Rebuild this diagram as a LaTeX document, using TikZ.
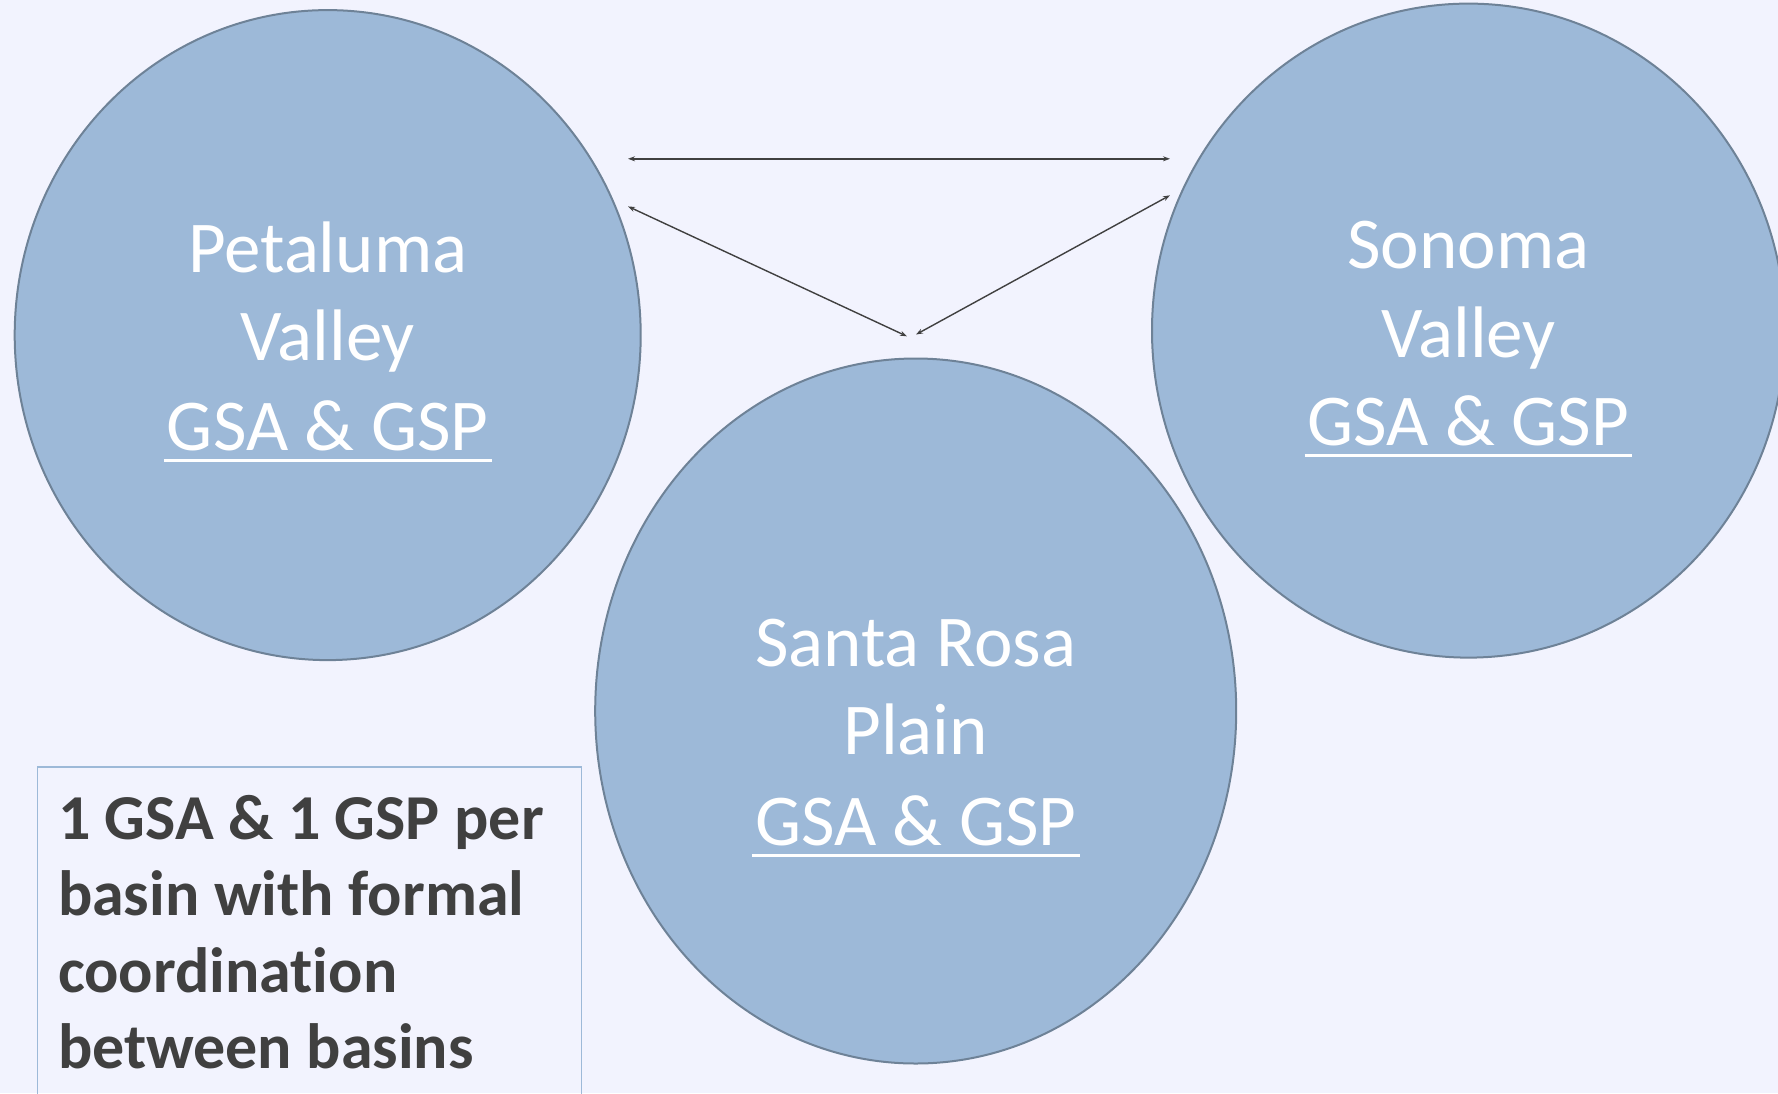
\documentclass[tikz,border=0pt]{standalone}
\usepackage{fontspec}
\setmainfont{Carlito}[Ligatures=NoCommon]
\usetikzlibrary{shapes.geometric,arrows.meta}
\definecolor{bg}{HTML}{F2F3FE}
\definecolor{basinfill}{HTML}{9DB9D8}
\definecolor{basinedge}{HTML}{6E8297}
\definecolor{arrowc}{HTML}{404040}
\definecolor{notec}{HTML}{404040}
\definecolor{noteedge}{HTML}{9DB9D8}
\begin{document}
\begin{tikzpicture}[x=1pt,y=-1pt,
  basin/.style={ellipse, fill=basinfill, draw=basinedge, line width=2pt, inner sep=0pt},
  lbl/.style={text=white, font=\fontsize{73}{88}\selectfont, inner sep=0pt, anchor=base},
  uline/.style={white, line width=3pt},
  link/.style={arrowc, line width=1.4pt, {Stealth[length=7pt,width=5pt]}-{Stealth[length=7pt,width=5pt]}},
  noteframe/.style={draw=noteedge, line width=1.8pt},
  note/.style={text=notec, font=\bfseries\fontsize{64}{76.5}\selectfont, align=left,
    anchor=north west, inner sep=0pt}]
\useasboundingbox (0,0) rectangle (1778,1093);
\clip (0,0) rectangle (1778,1093);
\fill[bg] (0,0) rectangle (1778,1093);
% basins
\node[basin, minimum width=626pt, minimum height=650pt] (pet) at (327.7,335.1) {};
\node[basin, minimum width=633pt, minimum height=654pt] (son) at (1468.5,330.6) {};
\node[basin, minimum width=641pt, minimum height=705pt] (sr) at (915.7,711) {};
% labels
\node[lbl] (pet1) at (327.7,272) {Petaluma};
\node[lbl] (pet2) at (327.7,360.6) {Valley};
\node[lbl] (pet3) at (327.7,450) {GSA \& GSP};
\draw[uline] ([xshift=-3pt,yshift=-10pt]pet3.base west) -- ([xshift=3pt,yshift=-10pt]pet3.base east);
\node[lbl] (son1) at (1468.5,268.8) {Sonoma};
\node[lbl] (son2) at (1468.5,357) {Valley};
\node[lbl] (son3) at (1468.5,445.7) {GSA \& GSP};
\draw[uline] ([xshift=-3pt,yshift=-10pt]son3.base west) -- ([xshift=3pt,yshift=-10pt]son3.base east);
\node[lbl] (sr1) at (915.7,666.8) {Santa Rosa};
\node[lbl] (sr2) at (915.7,754) {Plain};
\node[lbl] (sr3) at (915.7,845) {GSA \& GSP};
\draw[uline] ([xshift=-3pt,yshift=-10pt]sr3.base west) -- ([xshift=3pt,yshift=-10pt]sr3.base east);
% connectors
\coordinate (c1) at (628,158.8);
\coordinate (c2) at (1170,158.8);
\coordinate (c3) at (628,206.4);
\coordinate (c4) at (907,336.3);
\coordinate (c5) at (1170,195.3);
\coordinate (c6) at (916,334.5);
\draw[link] (c1) -- (c2);
\draw[link] (c3) -- (c4);
\draw[link] (c5) -- (c6);
% note
\draw[noteframe] (37.4,767) rectangle (581.5,1120);
\node[note] (note) at (57.8,795) {1 GSA \& 1 GSP per\\basin with formal\\coordination\\between basins};
\end{tikzpicture}
\end{document}
